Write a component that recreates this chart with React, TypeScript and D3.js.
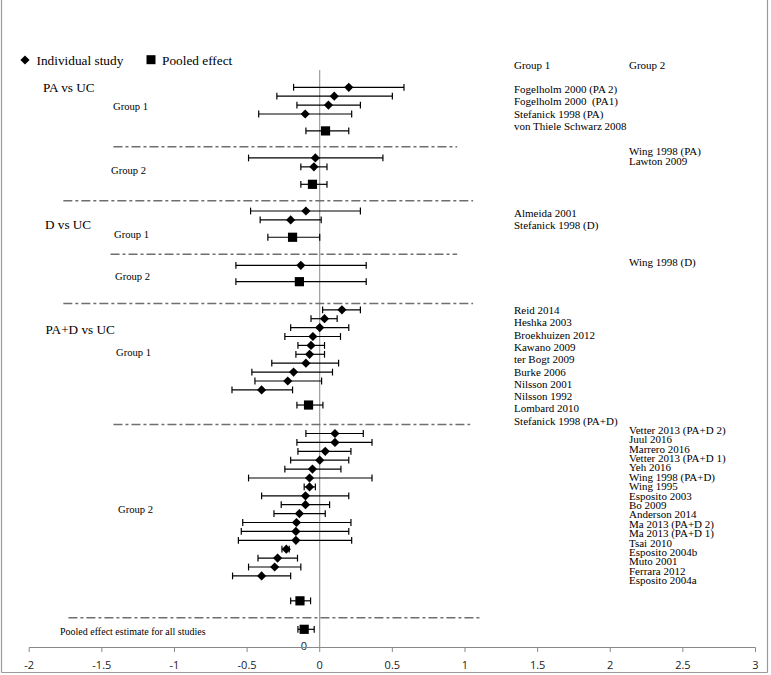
import React from "react";
import * as d3 from "d3";

// ---- Data (effect estimates with 95% CI) ----
const paG1Lo = [-0.18, -0.295, -0.157, -0.42];
const paG1Est = [0.2, 0.1, 0.06, -0.1];
const paG1Hi = [0.58, 0.5, 0.28, 0.22];
const paG1Pooled = [-0.095, 0.04, 0.2];

const paG2Lo = [-0.49, -0.13];
const paG2Est = [-0.03, -0.04];
const paG2Hi = [0.435, 0.05];
const paG2Pooled = [-0.13, -0.05, 0.05];

const dG1Lo = [-0.476, -0.41];
const dG1Est = [-0.095, -0.2];
const dG1Hi = [0.28, 0.01];
const dG1Pooled = [-0.357, -0.187, 0.0];

const dG2Lo = [-0.577];
const dG2Est = [-0.13];
const dG2Hi = [0.32];
const dG2Pooled = [-0.577, -0.14, 0.32];

const padG1Lo = [0.02, -0.06, -0.2, -0.24, -0.15, -0.164, -0.33, -0.467, -0.446, -0.604];
const padG1Est = [0.153, 0.033, 0.0, -0.047, -0.06, -0.07, -0.095, -0.18, -0.22, -0.4];
const padG1Hi = [0.28, 0.12, 0.2, 0.143, 0.033, 0.033, 0.13, 0.088, 0.013, -0.187];
const padG1Pooled = [-0.157, -0.077, 0.022];

const padG2Lo = [-0.095, -0.157, -0.15, -0.2, -0.24, -0.49, -0.107, -0.4, -0.265, -0.315, -0.53, -0.54, -0.56, -0.26, -0.425, -0.49, -0.6];
const padG2Est = [0.105, 0.105, 0.038, 0.0, -0.05, -0.07, -0.07, -0.098, -0.098, -0.14, -0.16, -0.164, -0.164, -0.23, -0.29, -0.31, -0.4];
const padG2Hi = [0.3, 0.36, 0.215, 0.2, 0.146, 0.36, -0.03, 0.2, 0.068, 0.038, 0.215, 0.2, 0.22, -0.21, -0.153, -0.13, -0.2];
const padG2Pooled = [-0.2, -0.136, -0.063];

const overallPooled = [-0.15, -0.107, -0.038];

const xTicks = [-2, -1.5, -1, -0.5, 0, 0.5, 1, 1.5, 2, 2.5, 3];

// Study labels
const paG1Labels = ["Fogelholm 2000 (PA 2)", "Fogelholm 2000  (PA1)", "Stefanick 1998 (PA)", "von Thiele Schwarz 2008"];
const paG2Labels = ["Wing 1998 (PA)", "Lawton 2009"];
const dG1Labels = ["Almeida 2001", "Stefanick 1998 (D)"];
const dG2Labels = ["Wing 1998 (D)"];
const padG1Labels = ["Reid 2014", "Heshka 2003", "Broekhuizen 2012", "Kawano 2009", "ter Bogt 2009", "Burke 2006", "Nilsson 2001", "Nilsson 1992", "Lombard 2010", "Stefanick 1998 (PA+D)"];
const padG2Labels = ["Vetter 2013 (PA+D 2)", "Juul 2016", "Marrero 2016", "Vetter 2013 (PA+D 1)", "Yeh 2016", "Wing 1998 (PA+D)", "Wing 1995", "Esposito 2003", "Bo 2009", "Anderson 2014", "Ma 2013 (PA+D 2)", "Ma 2013 (PA+D 1)", "Tsai 2010", "Esposito 2004b", "Muto 2001", "Ferrara 2012", "Esposito 2004a"];

// ---- Layout (row units) ----
const blocks = [
  { lo: paG1Lo, est: paG1Est, hi: paG1Hi, pooled: paG1Pooled, start: 0, pooledRow: 4.9 },
  { lo: paG2Lo, est: paG2Est, hi: paG2Hi, pooled: paG2Pooled, start: 7.94, pooledRow: 10.9 },
  { lo: dG1Lo, est: dG1Est, hi: dG1Hi, pooled: dG1Pooled, start: 13.9, pooledRow: 16.85 },
  { lo: dG2Lo, est: dG2Est, hi: dG2Hi, pooled: dG2Pooled, start: 20.0, pooledRow: 21.84 },
  { lo: padG1Lo, est: padG1Est, hi: padG1Hi, pooled: padG1Pooled, start: 25.0, pooledRow: 35.7 },
  { lo: padG2Lo, est: padG2Est, hi: padG2Hi, pooled: padG2Pooled, start: 38.9, pooledRow: 57.7 },
];
const overallRow = 60.9;
const dashLines = [
  { row: 6.67, x0: -1.42, x1: 0.946 },
  { row: 12.74, x0: -1.765, x1: 1.056 },
  { row: 18.76, x0: -1.44, x1: 0.946 },
  { row: 24.3, x0: -1.765, x1: 1.056 },
  { row: 37.9, x0: -1.42, x1: 1.036 },
  { row: 59.6, x0: -1.73, x1: 1.12 },
];
const labelBlocks = [
  { labels: paG1Labels, x: 514, y: 89.3, step: 12.3 },
  { labels: paG2Labels, x: 629, y: 151, step: 10 },
  { labels: dG1Labels, x: 514, y: 212.7, step: 12 },
  { labels: dG2Labels, x: 629, y: 262.3, step: 10 },
  { labels: padG1Labels, x: 514, y: 310, step: 12.33 },
  { labels: padG2Labels, x: 629, y: 430, step: 9.4 },
];
const sectionTitles = [
  { text: "PA vs UC", x: 43, y: 87 },
  { text: "D vs UC", x: 45, y: 224 },
  { text: "PA+D  vs UC", x: 45.5, y: 329 },
];
const groupTitles = [
  { text: "Group 1", x: 113, y: 106 },
  { text: "Group 2", x: 111, y: 170 },
  { text: "Group 1", x: 114, y: 234 },
  { text: "Group 2", x: 115, y: 276 },
  { text: "Group 1", x: 116, y: 352 },
  { text: "Group 2", x: 118, y: 509 },
];

const W = 771;
const H = 675;
const SERIF = "'Liberation Serif', 'DejaVu Serif', serif";
const SANS = "'Open Sans', 'DejaVu Sans', sans-serif";

export default function App() {
  const x = d3.scaleLinear().domain([-2, 3]).range([29.2, 755.5]);
  const y = d3.scaleLinear().domain([0, 1]).range([87.3, 96.2]);
  const axisY = 647.5;
  const cap = 3.4;

  const diamond = (cx: number, cy: number, key: string) => {
    const s = 4.6;
    return (
      <path key={key} d={`M${cx - s},${cy} L${cx},${cy - s} L${cx + s},${cy} L${cx},${cy + s} Z`} fill="#000" />
    );
  };
  const square = (cx: number, cy: number, key: string) => (
    <rect key={key} x={cx - 4.6} y={cy - 4.6} width={9.2} height={9.2} fill="#000" />
  );
  const errBar = (lo: number, hi: number, cy: number, key: string) => (
    <g key={key} stroke="#000" strokeWidth={1.2}>
      <line x1={x(lo)} x2={x(hi)} y1={cy} y2={cy} />
      <line x1={x(lo)} x2={x(lo)} y1={cy - cap} y2={cy + cap} />
      <line x1={x(hi)} x2={x(hi)} y1={cy - cap} y2={cy + cap} />
    </g>
  );

  const marks: React.ReactNode[] = [];
  blocks.forEach((b, bi) => {
    b.est.forEach((e, i) => {
      const cy = y(b.start + i);
      marks.push(errBar(b.lo[i], b.hi[i], cy, `e${bi}-${i}`));
      marks.push(diamond(x(e), cy, `d${bi}-${i}`));
    });
    const py = y(b.pooledRow);
    marks.push(errBar(b.pooled[0], b.pooled[2], py, `pe${bi}`));
    marks.push(square(x(b.pooled[1]), py, `p${bi}`));
  });
  const oy = y(overallRow);
  marks.push(errBar(overallPooled[0], overallPooled[2], oy, "oe"));
  marks.push(square(x(overallPooled[1]), oy, "o"));

  return (
    <svg width={W} height={H} style={{ position: "absolute", left: 0, top: 0, background: "#fff" }}>
      <rect x={0} y={0} width={W} height={H} fill="#fff" />
      {/* frame */}
      <g stroke="#9a9a9a" strokeWidth={1.2}>
        <line x1={1.5} x2={1.5} y1={0} y2={672.5} />
        <line x1={767.5} x2={767.5} y1={0} y2={672.5} />
        <line x1={1.5} x2={767.5} y1={672.5} y2={672.5} />
      </g>

      {/* legend */}
      {diamond(25, 60, "legd")}
      <text x={36.5} y={64.5} fontFamily={SERIF} fontSize={13.3}>Individual study</text>
      <rect x={146.5} y={55.2} width={9} height={9} fill="#000" />
      <text x={162} y={64.5} fontFamily={SERIF} fontSize={13.3}>Pooled effect</text>

      {/* right column headers */}
      <text x={514} y={69} fontFamily={SERIF} fontSize={11}>Group 1</text>
      <text x={629} y={69} fontFamily={SERIF} fontSize={11}>Group 2</text>

      {/* zero line */}
      <line x1={x(0)} x2={x(0)} y1={70} y2={axisY} stroke="#888" strokeWidth={1} />

      {/* dash-dot separators */}
      {dashLines.map((d, i) => (
        <line key={`dl${i}`} x1={x(d.x0)} x2={x(d.x1)} y1={y(d.row)} y2={y(d.row)}
          stroke="#6f6f6f" strokeWidth={1.5} strokeDasharray="9 3 3 3" />
      ))}

      {marks}

      {/* section + group titles */}
      {sectionTitles.map((t, i) => (
        <text key={`st${i}`} x={t.x} y={t.y} dy="0.35em" fontFamily={SERIF} fontSize={13.2}>{t.text}</text>
      ))}
      {groupTitles.map((t, i) => (
        <text key={`gt${i}`} x={t.x} y={t.y} dy="0.35em" fontFamily={SERIF} fontSize={10.6}>{t.text}</text>
      ))}

      {/* study labels */}
      {labelBlocks.map((lb, bi) =>
        lb.labels.map((l, i) => (
          <text key={`lb${bi}-${i}`} x={lb.x} y={lb.y + i * lb.step} dy="0.35em"
            fontFamily={SERIF} fontSize={11} style={{ whiteSpace: "pre" }}>{l}</text>
        ))
      )}

      <text x={60} y={631.5} dy="0.35em" fontFamily={SERIF} fontSize={10}>Pooled effect estimate for all studies</text>
      <text x={304} y={646} dy="0.35em" textAnchor="middle" fontFamily={SANS} fontSize={11} fill="#222">0</text>

      {/* x axis */}
      <line x1={x(-2)} x2={x(3)} y1={axisY} y2={axisY} stroke="#888" strokeWidth={1} />
      {xTicks.map((t) => (
        <g key={`t${t}`}>
          <line x1={x(t)} x2={x(t)} y1={axisY} y2={axisY + 4.5} stroke="#888" strokeWidth={1} />
          <text x={x(t)} y={665} dy="0.35em" textAnchor="middle" fontFamily={SANS} fontSize={11} fill="#222">{String(t)}</text>
        </g>
      ))}
    </svg>
  );
}
